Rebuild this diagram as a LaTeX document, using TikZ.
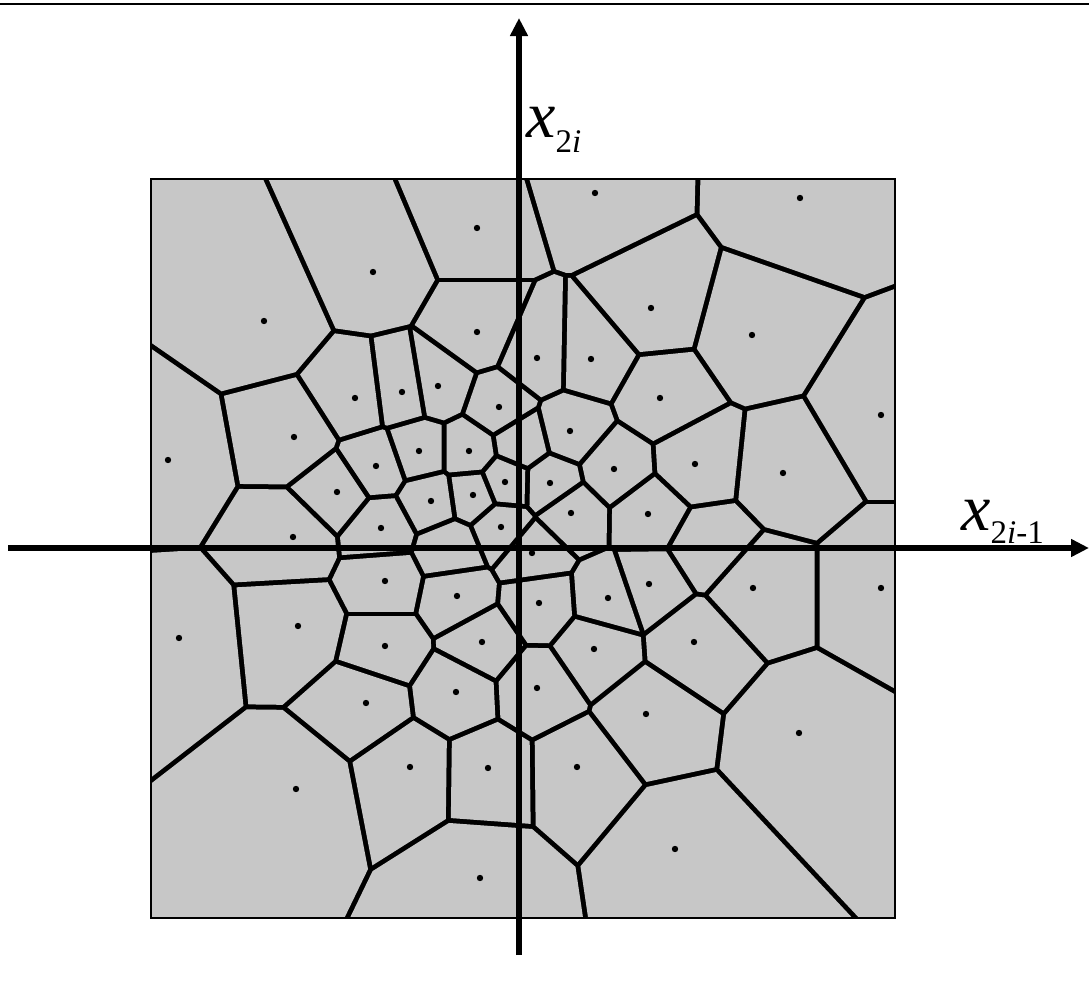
\documentclass[tikz,border=0pt]{standalone}
\usepackage{fontspec}
\setmainfont{Liberation Serif}
\newfontfamily\tnrfont{Liberation Serif}
\usetikzlibrary{arrows.meta}
\begin{document}
\begin{tikzpicture}[x=0.5pt,y=-0.5pt,
  cellfill/.style={fill=black!22},
  site/.style={fill=black},
  axis/.style={line width=3pt,-{Triangle[length=9pt,width=8.5pt]}},
  lbl/.style={inner sep=0pt,anchor=base west,font=\tnrfont}]
\useasboundingbox (0,0) rectangle (1089,985);
\fill[white] (0,0) rectangle (1089,985);
\draw[line width=1pt] (0,4) -- (1089,4);
% visible sites
\def\sites{595/193,800/198,373/272,264/321,477/228,477/332,651/308,752/335,537/358,591/359,355/398,402/392,438/386,499/407,660/398,881/415,168/460,294/437,376/466,337/492,381/528,293/537,385/581,298/626,179/638,385/646,419/451,469/451,570/431,614/469,505/482,550/483,431/501,473/495,501/527,571/513,648/514,532/553,457/596,539/603,608/598,649/584,482/642,594/649,695/464,783/473,753/588,881/588,694/642,366/703,296/789,456/692,537/688,646/714,410/767,488/768,577/767,480/878,799/733,675/849}
% sites hidden under the axes
\def\hidden{521/443,450/548,707/547}
\edef\allsites{\sites,\hidden}
\def\hw{2.5}
\def\LL{1500}
% edge colour under the cells
\fill[black] (151,179) rectangle (895,918);
\foreach \xa/\ya [count=\i] in \allsites {
  \begin{scope}
  \foreach \xb/\yb [count=\j] in \allsites {
    \ifnum\i=\j\relax\else
      \pgfmathsetmacro\dx{\xa-\xb}
      \pgfmathsetmacro\dy{\ya-\yb}
      \pgfmathsetmacro\len{100*sqrt((\dx/100)^2+(\dy/100)^2)}
      \pgfmathsetmacro\ux{\dx/\len}
      \pgfmathsetmacro\uy{\dy/\len}
      \pgfmathsetmacro\mx{(\xa+\xb)/2+\hw*(\ux)}
      \pgfmathsetmacro\my{(\ya+\yb)/2+\hw*(\uy)}
      \clip ({\mx-\LL*(\uy)},{\my+\LL*(\ux)}) -- ({\mx+\LL*(\uy)},{\my-\LL*(\ux)})
        -- ({\mx+\LL*(\uy)+\LL*(\ux)},{\my-\LL*(\ux)+\LL*(\uy)})
        -- ({\mx-\LL*(\uy)+\LL*(\ux)},{\my+\LL*(\ux)+\LL*(\uy)}) -- cycle;
    \fi
  }
  \fill[cellfill] (151,179) rectangle (895,918);
  \end{scope}
}
\draw[line width=1pt] (151,179) rectangle (895,918);
\foreach \xa/\ya in \sites {
  \fill[site] (\xa,\ya) circle[radius=3.2];
}
\coordinate (hl) at (8,548);
\coordinate (hr) at (1089,548);
\coordinate (vb) at (519,955);
\coordinate (vt) at (519,18);
\draw[axis] (hl) -- (hr);
\draw[axis] (vb) -- (vt);
\node[lbl] (l2i) at (526,137) {{\fontsize{33}{36}\selectfont\itshape x}\raisebox{-7.5pt}{\fontsize{16.5}{18}\selectfont 2\textit{i}}};
\node[lbl] (l2i1) at (961,530) {{\fontsize{33}{36}\selectfont\itshape x}\raisebox{-6.5pt}{\fontsize{16.5}{18}\selectfont 2\textit{i}-1}};
\end{tikzpicture}
\end{document}
